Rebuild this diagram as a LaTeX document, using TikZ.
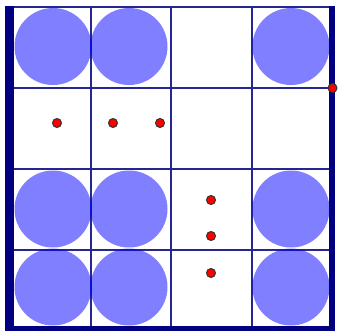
\documentclass[tikz,border=0pt]{standalone}
\begin{document}
\begin{tikzpicture}[x=1pt,y=-1pt,
  gridline/.style={draw=blue!50!black!85!white,line width=2pt},
  wall/.style={draw=blue!50!black,line cap=butt},
  disc/.style={fill=blue,fill opacity=0.5,draw=none},
  reddot/.style={circle,fill=red,draw=black!80,line width=1pt,inner sep=0pt,minimum size=9pt}]
\useasboundingbox (0,0) rectangle (338,333);
% grid
\foreach \x in {90.5,171,251.5} \draw[gridline] (\x,7) -- (\x,328);
\foreach \y in {7,88,168.5,250} \draw[gridline] (9,\y) -- (332,\y);
% walls
\draw[wall,line width=9pt] (9,6) -- (9,331);
\draw[wall,line width=6pt] (332,6) -- (332,331);
\draw[wall,line width=5pt] (5,328.5) -- (335,328.5);
% discs
\foreach \cx/\cy in {53/46.5,129/46.5,291/46.5,
                     53/209,129/209,291/209,
                     53/287,129/287,291/287}
  \fill[disc] (\cx,\cy) circle (38.5);
% red dots
\node[reddot] (d1) at (57,123) {};
\node[reddot] (d2) at (113,123) {};
\node[reddot] (d3) at (160,123) {};
\node[reddot] (d4) at (211,200) {};
\node[reddot] (d5) at (211,236) {};
\node[reddot] (d6) at (211,273) {};
\node[reddot] (d7) at (332.5,88) {};
\end{tikzpicture}
\end{document}
